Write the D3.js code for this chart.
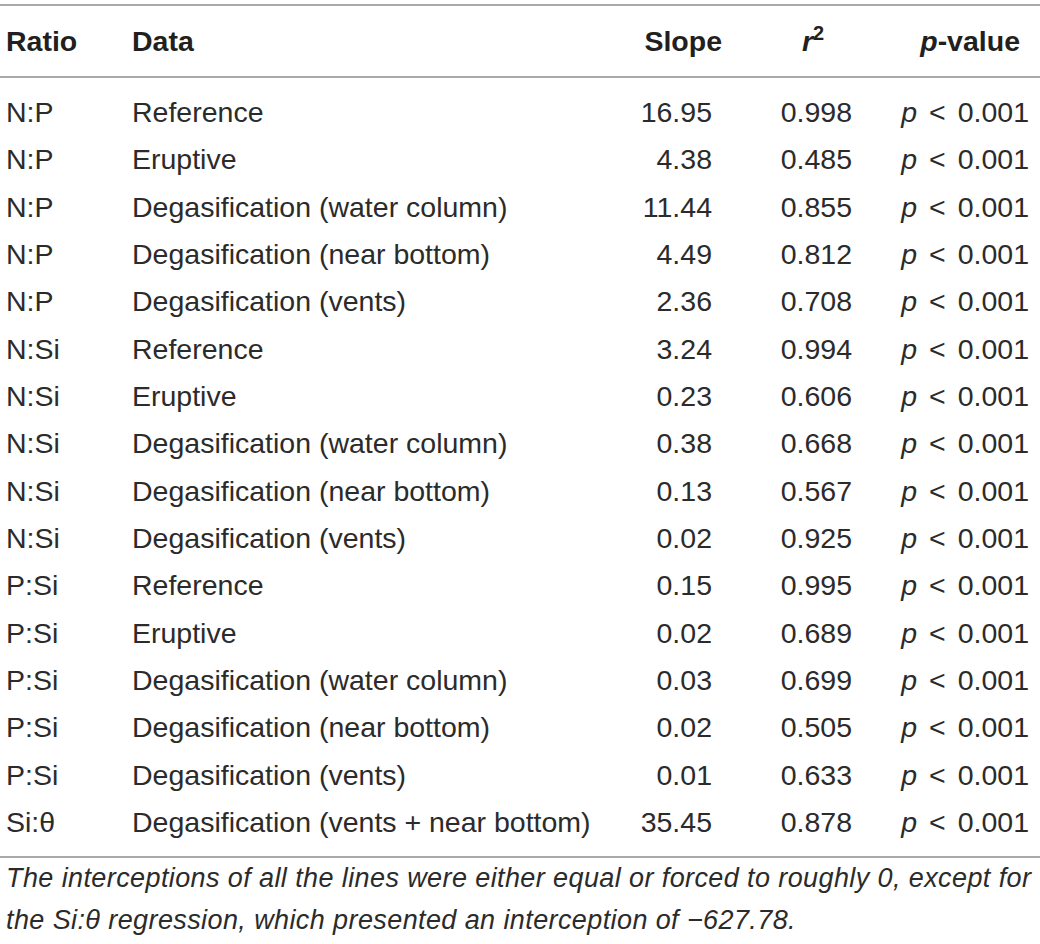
<!DOCTYPE html>
<html>
<head>
<meta charset="utf-8">
<script src="https://cdn.jsdelivr.net/npm/d3@7"></script>
<style>
  html, body { margin: 0; padding: 0; background: #fff; }
  svg { display: block; font-family: "Liberation Sans", Arial, sans-serif; }
</style>
</head>
<body>
<div id="table"></div>
<script>
// table contents
const ratios = ["N:P", "N:P", "N:P", "N:P", "N:P",
  "N:Si", "N:Si", "N:Si", "N:Si", "N:Si",
  "P:Si", "P:Si", "P:Si", "P:Si", "P:Si", "Si:\u03b8"];
const dataLabels = ["Reference", "Eruptive", "Degasification (water column)",
  "Degasification (near bottom)", "Degasification (vents)",
  "Reference", "Eruptive", "Degasification (water column)",
  "Degasification (near bottom)", "Degasification (vents)",
  "Reference", "Eruptive", "Degasification (water column)",
  "Degasification (near bottom)", "Degasification (vents)",
  "Degasification (vents + near bottom)"];
const slopes = ["16.95", "4.38", "11.44", "4.49", "2.36",
  "3.24", "0.23", "0.38", "0.13", "0.02",
  "0.15", "0.02", "0.03", "0.02", "0.01", "35.45"];
const r2 = ["0.998", "0.485", "0.855", "0.812", "0.708",
  "0.994", "0.606", "0.668", "0.567", "0.925",
  "0.995", "0.689", "0.699", "0.505", "0.633", "0.878"];
const pValues = ["0.001", "0.001", "0.001", "0.001", "0.001",
  "0.001", "0.001", "0.001", "0.001", "0.001",
  "0.001", "0.001", "0.001", "0.001", "0.001", "0.001"];
const footnote = [
  "The interceptions of all the lines were either equal or forced to roughly 0, except for",
  "the Si:\u03b8 regression, which presented an interception of \u2212627.78."
];

const width = 1040, height = 944;
const headColor = "#231f20";
const textColor = "#2b2b2b";
const ruleColor = "#a7a9ac";

const svg = d3.select("#table").append("svg")
  .attr("width", width)
  .attr("height", height);

const rows = d3.range(ratios.length);
const y = d3.scalePoint().domain(rows).range([112, 822]);

// column anchors
const col = { ratio: 6, data: 132, slope: 712, r2: 852, p: 1029 };

// horizontal rules
[5, 77, 857].forEach(yy => {
  svg.append("line")
    .attr("x1", 0).attr("x2", width)
    .attr("y1", yy).attr("y2", yy)
    .attr("stroke", ruleColor)
    .attr("stroke-width", 2);
});

// header
const header = svg.append("g")
  .attr("font-weight", "bold")
  .attr("font-size", 28.5)
  .attr("fill", headColor);
const hy = 51;
header.append("text").attr("x", col.ratio).attr("y", hy).text("Ratio");
header.append("text").attr("x", col.data).attr("y", hy).text("Data");
header.append("text").attr("x", 722).attr("y", hy).attr("text-anchor", "end").text("Slope");
const rh = header.append("text").attr("x", 802).attr("y", hy);
rh.append("tspan").attr("font-style", "italic").text("r");
rh.append("tspan").attr("font-size", 20).attr("dy", -11).text("2");
const ph = header.append("text").attr("x", 1020).attr("y", hy).attr("text-anchor", "end");
ph.append("tspan").attr("font-style", "italic").text("p");
ph.append("tspan").text("-value");

// body rows
const body = svg.append("g")
  .attr("font-size", 28.5)
  .attr("fill", textColor);

const row = body.selectAll("g.row")
  .data(rows)
  .join("g")
  .attr("class", "row")
  .attr("transform", i => `translate(0,${y(i) + 10})`);

row.append("text").attr("x", col.ratio).text(i => ratios[i]);
row.append("text").attr("x", col.data).text(i => dataLabels[i]);
row.append("text").attr("x", col.slope).attr("text-anchor", "end").text(i => slopes[i]);
row.append("text").attr("x", col.r2).attr("text-anchor", "end").text(i => r2[i]);
const pt = row.append("text").attr("x", col.p).attr("text-anchor", "end");
pt.append("tspan").attr("font-style", "italic").text("p");
pt.append("tspan").attr("dx", 12).text("<");
pt.append("tspan").attr("dx", 12).text(i => pValues[i]);

// footnote
svg.append("g")
  .attr("font-style", "italic")
  .attr("font-size", 27)
  .attr("letter-spacing", 0.4)
  .attr("fill", textColor)
  .selectAll("text")
  .data(footnote)
  .join("text")
  .attr("x", 6)
  .attr("y", (d, i) => 887 + i * 42)
  .text(d => d);
</script>
</body>
</html>
